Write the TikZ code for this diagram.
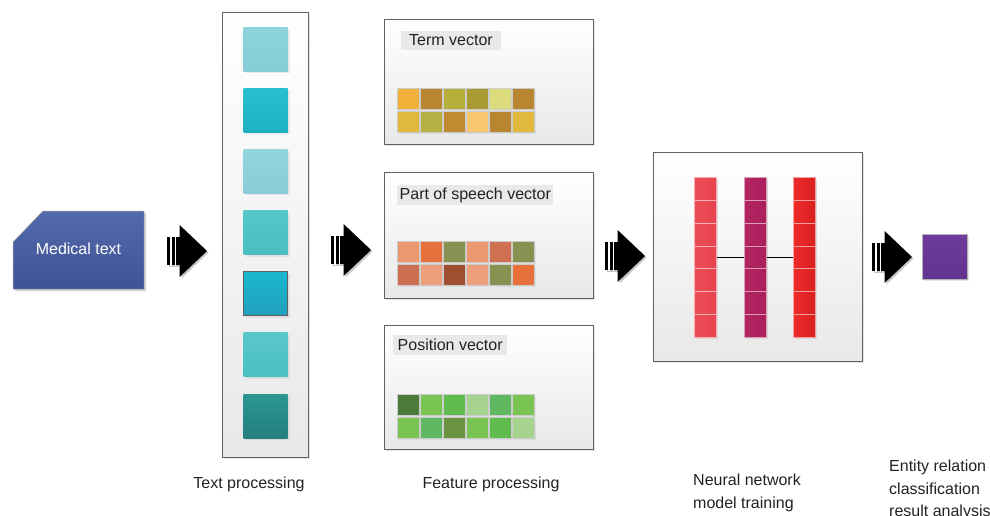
\documentclass[tikz,border=0pt]{standalone}
\usepackage{fontspec}
\setmainfont{Liberation Sans}
\usetikzlibrary{shadows}
% colours
\definecolor{medtop}{HTML}{5269AB}
\definecolor{medbot}{HTML}{3F5495}
\definecolor{labfill}{HTML}{E9E9E9}
\definecolor{txt}{HTML}{222222}
% text processing squares
\definecolor{sqa}{HTML}{8ED4DD}\definecolor{sqab}{HTML}{86CCD6}
\definecolor{sqb}{HTML}{28C0CF}\definecolor{sqbb}{HTML}{1EB0C1}
\definecolor{sqc}{HTML}{91D5DE}\definecolor{sqcb}{HTML}{88CDD7}
\definecolor{sqd}{HTML}{57C7CA}\definecolor{sqdb}{HTML}{4ABEBF}
\definecolor{sqe}{HTML}{1BB8D0}\definecolor{sqeb}{HTML}{22A0BD}
\definecolor{sqf}{HTML}{58C7CA}\definecolor{sqfb}{HTML}{4CBFC0}
\definecolor{sqg}{HTML}{2B9892}\definecolor{sqgb}{HTML}{237F7E}
% term vector
\definecolor{ta}{HTML}{F0B23A}\definecolor{tb}{HTML}{B8862E}\definecolor{tc}{HTML}{B6B03A}
\definecolor{td}{HTML}{AA9A34}\definecolor{te}{HTML}{DCDC7C}\definecolor{tf}{HTML}{E0B83C}
\definecolor{tg}{HTML}{B4B042}\definecolor{th}{HTML}{C08A30}\definecolor{ti}{HTML}{F8C870}
% part of speech
\definecolor{pa}{HTML}{EC9870}\definecolor{pb}{HTML}{E8703A}\definecolor{pc}{HTML}{879152}
\definecolor{pd}{HTML}{D07052}\definecolor{pe}{HTML}{CC6E50}\definecolor{pf}{HTML}{EC9F7A}
\definecolor{pg}{HTML}{A04E30}
% position
\definecolor{qa}{HTML}{4C7A3A}\definecolor{qb}{HTML}{7AC454}\definecolor{qc}{HTML}{60BC4C}
\definecolor{qd}{HTML}{A6D48E}\definecolor{qe}{HTML}{60B860}\definecolor{qf}{HTML}{6A9440}
% network
\definecolor{nna}{HTML}{EE4D58}\definecolor{nnab}{HTML}{E6434E}
\definecolor{nnb}{HTML}{B42663}\definecolor{nnbb}{HTML}{AA205C}
\definecolor{nnc}{HTML}{EE2A2A}\definecolor{nncb}{HTML}{DA2020}
\definecolor{purp}{HTML}{6E3C9C}\definecolor{purpb}{HTML}{633390}

\tikzset{
  panel/.style={draw=black!62, line width=0.7pt, top color=white, bottom color=black!9,
    inner sep=0pt, anchor=north west,
    drop shadow={shadow xshift=1.5pt, shadow yshift=-1.5pt, opacity=0.22}},
  tsq/.style={minimum width=44pt, minimum height=44pt, inner sep=0pt,
    drop shadow={shadow xshift=2pt, shadow yshift=-2pt, opacity=0.15}},
  cell/.style={minimum width=22pt, minimum height=21pt, inner sep=0pt, anchor=north west,
    draw=white!80!black, line width=0.5pt,
    drop shadow={shadow xshift=1.5pt, shadow yshift=-1.5pt, opacity=0.15}},
  nncell/.style={minimum width=22pt, minimum height=22.86pt, inner sep=0pt, anchor=north west,
    line width=0.9pt},
  vlabel/.style={fill=labfill, anchor=west, inner ysep=0pt, minimum height=19pt, text=txt},
  caption/.style={text=txt, align=left, inner sep=0pt}
}

\newcommand{\blockarrowat}[1]{%
  \begin{scope}[shift={(#1)}]
    \fill[black!22] (-18.5,-12.5) rectangle (-5.5,15.5);
    \fill[black!22] (-5.5,-24.5) -- (21.5,1.5) -- (-5.5,27.5) -- cycle;
    \fill[black] (-20,-14) rectangle (-7,14);
    \fill[black] (-7.5,-26) -- (20,0) -- (-7.5,26) -- cycle;
    \fill[white] (-16.6,-14.5) rectangle (-15.1,14.5);
    \fill[white] (-12.4,-14.5) rectangle (-10.9,14.5);
  \end{scope}}

\begin{document}
\begin{tikzpicture}[x=1pt, y=-1pt, font=\fontsize{16}{22.5}\selectfont]
\useasboundingbox (0,0) rectangle (990,515);

% ---------- Medical text ----------
\fill[black!18] (15,244) -- (45,213) -- (146,213) -- (146,291) -- (15,291) -- cycle;
\shadedraw[top color=medtop, bottom color=medbot, draw=black!35, line width=0.5pt]
  (13,242) -- (43,211) -- (144,211) -- (144,289) -- (13,289) -- cycle;
\node[text=white, inner sep=0pt] (med) at (78.5,249) {Medical text};

% ---------- Text processing column ----------
\node[panel, minimum width=86pt, minimum height=445pt] (tp) at (222,12) {};
\foreach \ct/\cb [count=\i from 0] in {sqa/sqab, sqb/sqbb, sqc/sqcb, sqd/sqdb, sqe/sqeb, sqf/sqfb, sqg/sqgb}
  \node[tsq, top color=\ct, bottom color=\cb] (sq\i) at (265.5,{49+61.17*\i}) {};
\draw[black!62, line width=0.8pt] (sq4.north west) rectangle (sq4.south east);

% ---------- Feature boxes ----------
\node[panel, minimum width=209pt, minimum height=125pt] (term) at (384,19) {};
\node[panel, minimum width=209pt, minimum height=126pt] (pos) at (384,172) {};
\node[panel, minimum width=209pt, minimum height=124pt] (posi) at (384,325) {};

\node[vlabel, inner xsep=8pt] (termlab) at (401,40) {Term vector};
\node[vlabel, inner xsep=2.5pt, minimum height=20pt] (poslab) at (397,195) {Part of speech vector};
\node[vlabel, inner xsep=4.5pt, minimum height=20pt] (posilab) at (393,345) {Position vector};

\foreach \c [count=\i from 0] in {ta,tb,tc,td,te,tb}
  \node[cell, fill=\c] (ta\i) at ({397+23*\i},88) {};
\foreach \c [count=\i from 0] in {tf,tg,th,ti,tb,tf}
  \node[cell, fill=\c] (tb\i) at ({397+23*\i},111) {};

\foreach \c [count=\i from 0] in {pa,pb,pc,pa,pd,pc}
  \node[cell, fill=\c] (pa\i) at ({397+23*\i},241) {};
\foreach \c [count=\i from 0] in {pe,pf,pg,pf,pc,pb}
  \node[cell, fill=\c] (pb\i) at ({397+23*\i},264) {};

\foreach \c [count=\i from 0] in {qa,qb,qc,qd,qe,qb}
  \node[cell, fill=\c] (qa\i) at ({397+23*\i},394) {};
\foreach \c [count=\i from 0] in {qb,qe,qf,qb,qc,qd}
  \node[cell, fill=\c] (qb\i) at ({397+23*\i},417) {};

% ---------- Neural network ----------
\node[panel, minimum width=209pt, minimum height=209pt] (nn) at (653,152) {};
\foreach \x/\cl/\cr/\n in {694/nna/nnab/a, 744/nnb/nnbb/b, 793/nnc/nncb/c}{
  \fill[black!15] (\x+2,179) rectangle (\x+24,339);
  \foreach \j in {0,...,6}
    \node[nncell, left color=\cl, right color=\cr, draw=white!55!\cl] (n\n\j) at (\x,{177+22.86*\j}) {};
}
\draw[black, line width=1.9pt] (na3.east) -- (nb3.west);
\draw[black, line width=1.9pt] (nb3.east) -- (nc3.west);

% ---------- Result ----------
\node[anchor=north west, minimum size=45pt, inner sep=0pt, top color=purp, bottom color=purpb,
  draw=black!30, line width=0.5pt,
  drop shadow={shadow xshift=1.5pt, shadow yshift=-1.5pt, opacity=0.2}] (res) at (922,234) {};

% ---------- Block arrows ----------
\blockarrowat{187,251}
\blockarrowat{351,250}
\blockarrowat{625,256}
\blockarrowat{892,257}

% ---------- Captions ----------
\node[caption] (captp) at (249,484) {Text processing};
\node[caption] (capfp) at (491,484) {Feature processing};
\node[caption, anchor=north west] (capnn) at (693,474) {Neural network\\model training};
\node[caption, anchor=north west] (capres) at (889,460) {Entity relation\\classification\\result analysis};
\end{tikzpicture}
\end{document}
